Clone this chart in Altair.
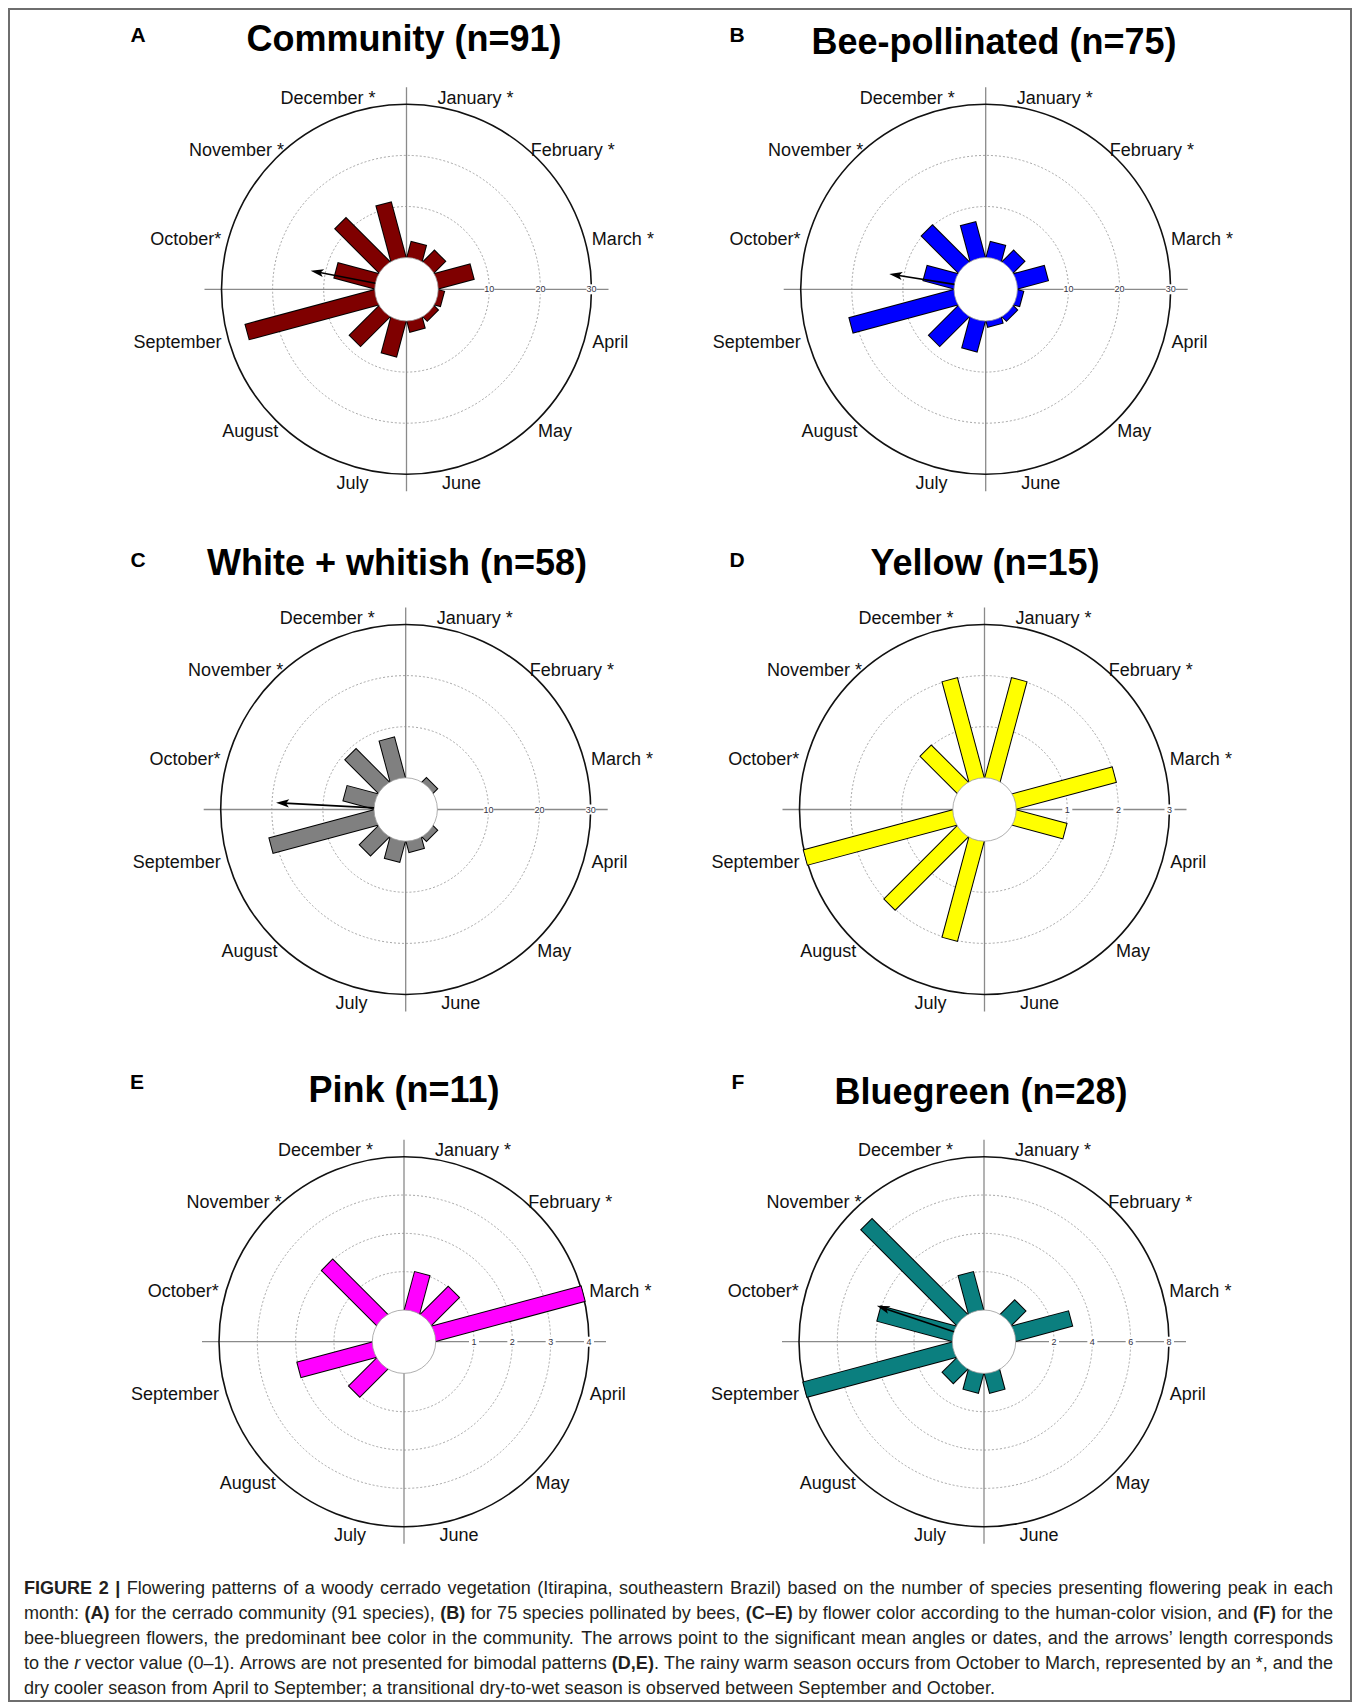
import altair as alt
import pandas as pd

# ---------------- data ----------------
MONTHS = ["January *", "February *", "March *", "April", "May", "June",
          "July", "August", "September", "October*", "November *", "December *"]
MONTH_ANGLE = [15, 45, 75, 105, 135, 165, 195, 225, 255, 285, 315, 345]  # mid-month, clockwise from top

PANELS = ["A", "B", "C", "D", "E", "F"]
TITLES = ["Community (n=91)", "Bee-pollinated (n=75)", "White + whitish (n=58)",
          "Yellow (n=15)", "Pink (n=11)", "Bluegreen (n=28)"]
COLORS = ["#7f0000", "#0000ff", "#808080", "#ffff00", "#ff00ff", "#0b7f7f"]
SCALE_MAX = [30, 30, 30, 3, 4, 8]
RING_TICKS = [[10, 20, 30], [10, 20, 30], [10, 20, 30], [1, 2, 3], [1, 2, 3, 4], [2, 4, 6, 8]]

#            Jan Feb Mar Apr May Jun Jul Aug Sep Oct Nov Dec
COUNTS_A = [3, 3, 7, 1, 1, 2, 7, 8, 26, 8, 12, 11]
COUNTS_B = [3, 3, 6, 1, 1, 1, 6, 8, 21, 6, 10, 7]
COUNTS_C = [0, 1, 0, 0, 1, 2, 4, 5, 21, 6, 9, 8]
COUNTS_D = [2, 0, 2, 1, 0, 0, 2, 2, 3, 0, 1, 2]
COUNTS_E = [1, 1, 4, 0, 0, 0, 0, 1, 2, 0, 2, 0]
COUNTS_F = [0, 1, 3, 0, 0, 1, 1, 1, 8, 4, 7, 2]
COUNTS = {"A": COUNTS_A, "B": COUNTS_B, "C": COUNTS_C, "D": COUNTS_D, "E": COUNTS_E, "F": COUNTS_F}

ARROW_PANELS = ["A", "B", "C", "F"]
ARROW_ANGLE = [281, 279, 273, 288.5]
ARROW_R = [0.43, 0.43, 0.64, 0.53]

CAPTION_LINES = [
    [("FIGURE 2 |", "bold"), (" Flowering patterns of a woody cerrado vegetation (Itirapina, southeastern Brazil) based on the number of species presenting flowering peak in each", "normal")],
    [("month: ", "normal"), ("(A)", "bold"), (" for the cerrado community (91 species), ", "normal"), ("(B)", "bold"),
     (" for 75 species pollinated by bees, ", "normal"), ("(C\u2013E)", "bold"),
     (" by flower color according to the human-color vision, and ", "normal"), ("(F)", "bold"), (" for the", "normal")],
    [("bee-bluegreen flowers, the predominant bee color in the community. The arrows point to the significant mean angles or dates, and the arrows\u2019 length corresponds", "normal")],
    [("to the ", "normal"), ("r", "italic"), (" vector value (0\u20131). Arrows are not presented for bimodal patterns ", "normal"),
     ("(D,E)", "bold"), (". The rainy warm season occurs from October to March, represented by an *, and the", "normal")],
    [("dry cooler season from April to September; a transitional dry-to-wet season is observed between September and October.", "normal")],
]

# ---------------- layout ----------------
W, H = 1344, 1696
FONT = "Liberation Sans, Arial, Helvetica, sans-serif"
CENTERS = [(406.5, 289.3), (985.7, 289.3), (405.7, 809.5), (984.5, 809.5), (404.0, 1341.7), (984.0, 1341.7)]
TITLE_POS = [(404, 40), (994, 43), (397, 564), (985, 564), (404, 1091), (981, 1093)]
LETTER_POS = [(138, 36), (737, 36), (138, 561), (737, 561), (137, 1083), (738, 1083)]
R_OUT, R_HOLE, R_AXIS = 185.0, 31.7, 202.0
LABEL_R, LABEL_FS = 193.0, 18
CAP_X0, CAP_X1, CAP_Y0, CAP_DY = 24, 1333, 1589, 25

AR = {' ': 278, '!': 278, '"': 355, '#': 556, '$': 556, '%': 889, '&': 667, "'": 191, '(': 333, ')': 333,
      '*': 389, '+': 584, ',': 278, '-': 333, '.': 278, '/': 278, ':': 278, ';': 278, '<': 584, '=': 584,
      '>': 584, '?': 556, '@': 1015, 'A': 667, 'B': 667, 'C': 722, 'D': 722, 'E': 667, 'F': 611, 'G': 778,
      'H': 722, 'I': 278, 'J': 500, 'K': 667, 'L': 556, 'M': 833, 'N': 722, 'O': 778, 'P': 667, 'Q': 778,
      'R': 722, 'S': 667, 'T': 611, 'U': 722, 'V': 667, 'W': 944, 'X': 667, 'Y': 667, 'Z': 611, 'a': 556,
      'b': 556, 'c': 500, 'd': 556, 'e': 556, 'f': 278, 'g': 556, 'h': 556, 'i': 222, 'j': 222, 'k': 500,
      'l': 222, 'm': 833, 'n': 556, 'o': 556, 'p': 556, 'q': 556, 'r': 333, 's': 500, 't': 278, 'u': 556,
      'v': 500, 'w': 722, 'x': 500, 'y': 500, 'z': 500, '|': 260, '\u2013': 556, '\u2019': 222}
for d in "0123456789":
    AR[d] = 556
AB = dict(AR)
AB.update({'!': 333, '|': 280, 'A': 722, 'B': 722, 'J': 556, 'K': 722, 'L': 611, 'a': 556, 'b': 611, 'c': 556,
           'd': 611, 'f': 333, 'g': 611, 'h': 611, 'i': 278, 'j': 278, 'k': 556, 'l': 278, 'm': 889, 'n': 611,
           'o': 611, 'p': 611, 'q': 611, 'r': 389, 's': 556, 't': 333, 'u': 611, 'v': 556, 'w': 778, 'x': 556,
           'y': 556})


def text_units(s, style="normal"):
    tbl = AB if style == "bold" else AR
    return sum(tbl.get(ch, 556) for ch in s)


XS = alt.Scale(domain=[8, 8 + W], nice=False, zero=False)
YS = alt.Scale(domain=[8, 8 + H], nice=False, zero=False, reverse=True)


def xy(x="x", y="y"):
    return dict(x=alt.X(f"{x}:Q", scale=XS, axis=None), y=alt.Y(f"{y}:Q", scale=YS, axis=None))


def polar(ch, rexpr):
    return (ch.transform_calculate(rad="datum.angle * PI / 180")
              .transform_calculate(r=rexpr)
              .transform_calculate(xe="datum.cx + datum.r * sin(datum.rad)",
                                   ye="datum.cy - datum.r * cos(datum.rad)"))


RSCALE = f"{R_HOLE} + datum.value * {R_OUT - R_HOLE} / datum.rmax"

# ---------------- tables built from the arrays ----------------
bar_rows, ring_rows, label_rows, panel_rows, cross_rows = [], [], [], [], []
for pi, p in enumerate(PANELS):
    cx, cy = CENTERS[pi]
    panel_rows.append({"panel": p, "cx": cx, "cy": cy, "title": TITLES[pi],
                       "tx": TITLE_POS[pi][0], "ty": TITLE_POS[pi][1],
                       "lx": LETTER_POS[pi][0], "ly": LETTER_POS[pi][1]})
    cross_rows.append({"x": cx - R_AXIS, "x2": cx + R_AXIS, "y": cy, "y2": cy})
    cross_rows.append({"x": cx, "x2": cx, "y": cy - R_AXIS, "y2": cy + R_AXIS})
    for mi, c in enumerate(COUNTS[p]):
        if c > 0:
            bar_rows.append({"panel": p, "month": MONTHS[mi], "angle": MONTH_ANGLE[mi], "value": c,
                             "rmax": SCALE_MAX[pi], "cx": cx, "cy": cy, "color": COLORS[pi]})
    for v in RING_TICKS[pi]:
        ring_rows.append({"panel": p, "value": v, "rmax": SCALE_MAX[pi], "cx": cx, "cy": cy,
                          "outer": v == SCALE_MAX[pi], "label": str(v)})
    for mi, m in enumerate(MONTHS):
        label_rows.append({"panel": p, "label": m, "angle": MONTH_ANGLE[mi], "cx": cx, "cy": cy,
                           "hw": text_units(m) * LABEL_FS / 2000.0})

bars = pd.DataFrame(bar_rows)
rings = pd.DataFrame(ring_rows)
labels = pd.DataFrame(label_rows)
panels = pd.DataFrame(panel_rows)
cross = pd.DataFrame(cross_rows)
arrows = pd.DataFrame({"panel": ARROW_PANELS, "angle": ARROW_ANGLE, "value": ARROW_R,
                       "cx": [CENTERS[PANELS.index(p)][0] for p in ARROW_PANELS],
                       "cy": [CENTERS[PANELS.index(p)][1] for p in ARROW_PANELS]})

# caption: justified words
space_u = AR[' ']


def tokens(segs):
    toks, pending = [], False
    for text, style in segs:
        parts = text.split(" ")
        for k, part in enumerate(parts):
            if k > 0:
                pending = True
            if part == "":
                continue
            toks.append([part, style, pending and len(toks) > 0])
            pending = False
    return toks


line_toks = [tokens(l) for l in CAPTION_LINES]
nat_units = [sum(text_units(t[0], t[1]) for t in tk) + space_u * sum(1 for t in tk if t[2]) for tk in line_toks]
CAP_FS = min((CAP_X1 - CAP_X0) * 1000.0 / u for u in nat_units[:-1])
cap_rows = []
for li, tk in enumerate(line_toks):
    n_gaps = sum(1 for t in tk if t[2])
    nat = nat_units[li] * CAP_FS / 1000.0
    gap = space_u * CAP_FS / 1000.0
    if li < len(line_toks) - 1 and n_gaps:
        gap += (CAP_X1 - CAP_X0 - nat) / n_gaps
    x = CAP_X0
    for word, style, g in tk:
        if g:
            x += gap
        cap_rows.append({"text": word, "style": style, "x": x, "y": CAP_Y0 + li * CAP_DY})
        x += text_units(word, style) * CAP_FS / 1000.0
cap = pd.DataFrame(cap_rows)

frame = pd.DataFrame({"x": [9], "x2": [1351], "y": [9], "y2": [1701]})

# ---------------- layers ----------------
layers = []

layers.append(alt.Chart(frame).mark_rect(filled=False, stroke="#6e6e6e", strokeWidth=2).encode(
    **xy(), x2="x2:Q", y2="y2:Q"))

ring_base = polar(alt.Chart(rings), RSCALE).transform_calculate(s="4 * datum.r * datum.r")
layers.append(ring_base.transform_filter("!datum.outer").mark_point(
    shape="circle", filled=False, color="#9c9c9c", strokeWidth=0.9, strokeDash=[2, 2], opacity=1).encode(
    x=alt.X("cx:Q", scale=XS, axis=None), y=alt.Y("cy:Q", scale=YS, axis=None),
    size=alt.Size("s:Q", scale=None, legend=None)))

layers.append(alt.Chart(cross).mark_rule(color="#8a8a8a", strokeWidth=1.3).encode(
    **xy(), x2="x2:Q", y2="y2:Q"))

layers.append(ring_base.transform_filter("datum.outer").mark_point(
    shape="circle", filled=False, color="#111111", strokeWidth=1.6, opacity=1).encode(
    x=alt.X("cx:Q", scale=XS, axis=None), y=alt.Y("cy:Q", scale=YS, axis=None),
    size=alt.Size("s:Q", scale=None, legend=None)))

# bars: black outline then colour fill
layers.append(polar(alt.Chart(bars), RSCALE + " + 1").mark_rule(
    color="black", strokeWidth=17, strokeCap="butt").encode(
    x=alt.X("cx:Q", scale=XS, axis=None), y=alt.Y("cy:Q", scale=YS, axis=None),
    x2="xe:Q", y2="ye:Q"))
layers.append(polar(alt.Chart(bars), RSCALE).mark_rule(strokeWidth=15, strokeCap="butt").encode(
    x=alt.X("cx:Q", scale=XS, axis=None), y=alt.Y("cy:Q", scale=YS, axis=None),
    x2="xe:Q", y2="ye:Q", color=alt.Color("color:N", scale=None, legend=None)))

# centre hole
layers.append(alt.Chart(panels).mark_point(
    shape="circle", filled=True, fill="white", stroke="#9a9a9a", strokeWidth=0.8, opacity=1,
    size=(2 * R_HOLE) ** 2).encode(x=alt.X("cx:Q", scale=XS, axis=None), y=alt.Y("cy:Q", scale=YS, axis=None)))

# ring value labels on the east axis
tick_base = alt.Chart(rings).transform_calculate(r=RSCALE).transform_calculate(tx="datum.cx + datum.r")
layers.append(tick_base.mark_point(shape="square", filled=True, color="white", size=100, opacity=1).encode(
    x=alt.X("tx:Q", scale=XS, axis=None), y=alt.Y("cy:Q", scale=YS, axis=None)))
layers.append(tick_base.mark_text(font=FONT, fontSize=9, color="#333344", align="center", baseline="middle").encode(
    x=alt.X("tx:Q", scale=XS, axis=None), y=alt.Y("cy:Q", scale=YS, axis=None), text="label:N"))

# mean-vector arrows
ARROW_LEN = f"{R_HOLE} + datum.value * {R_OUT - R_HOLE}"
layers.append(alt.Chart(arrows).transform_calculate(rad="datum.angle * PI / 180")
              .transform_calculate(rt=ARROW_LEN)
              .transform_calculate(x0=f"datum.cx + {R_HOLE} * sin(datum.rad)",
                                   y0=f"datum.cy - {R_HOLE} * cos(datum.rad)",
                                   x1="datum.cx + (datum.rt - 8) * sin(datum.rad)",
                                   y1="datum.cy - (datum.rt - 8) * cos(datum.rad)")
              .mark_rule(color="black", strokeWidth=1.6).encode(**xy("x0", "y0"), x2="x1:Q", y2="y1:Q"))
layers.append(alt.Chart(arrows).transform_calculate(rad="datum.angle * PI / 180")
              .transform_calculate(rt=ARROW_LEN)
              .transform_calculate(hx="datum.cx + (datum.rt - 6.5) * sin(datum.rad)",
                                   hy="datum.cy - (datum.rt - 6.5) * cos(datum.rad)")
              .mark_point(shape="M0,-1L0.62,1L0,0.55L-0.62,1Z", filled=True, color="black", size=169, opacity=1)
              .encode(**xy("hx", "hy"), angle=alt.Angle("angle:Q", scale=None)))

# month labels (top pair hugs the vertical axis, others sit outside the rim)
layers.append(alt.Chart(labels).transform_calculate(rad="datum.angle * PI / 180")
              .transform_calculate(
                  lx=f"cos(datum.rad) > 0.9 ? datum.cx + (sin(datum.rad) > 0 ? 1 : -1) * (31 + datum.hw)"
                     f" : datum.cx + ({LABEL_R} + datum.hw) * sin(datum.rad)",
                  ly="datum.cy - 199 * cos(datum.rad) + 2")
              .mark_text(font=FONT, fontSize=LABEL_FS, color="#111111", align="center", baseline="middle")
              .encode(**xy("lx", "ly"), text="label:N"))

# titles and panel letters
layers.append(alt.Chart(panels).mark_text(font=FONT, fontSize=36, fontWeight="bold", color="black",
                                          align="center", baseline="middle").encode(**xy("tx", "ty"), text="title:N"))
layers.append(alt.Chart(panels).mark_text(font=FONT, fontSize=21, fontWeight="bold", color="black",
                                          align="center", baseline="middle").encode(**xy("lx", "ly"), text="panel:N"))

# caption
for style, kw in [("normal", {}), ("bold", {"fontWeight": "bold"}), ("italic", {"fontStyle": "italic"})]:
    layers.append(alt.Chart(cap[cap["style"] == style]).mark_text(
        font=FONT, fontSize=CAP_FS, color="#231f20", align="left", baseline="middle", **kw).encode(
        **xy(), text="text:N"))

chart = alt.layer(*layers).properties(
    width=W, height=H, padding=0, autosize=alt.AutoSizeParams(type="none"), background="white"
).configure_view(stroke=None)

chart.save("out.html", embed_options={"renderer": "svg", "actions": False})
